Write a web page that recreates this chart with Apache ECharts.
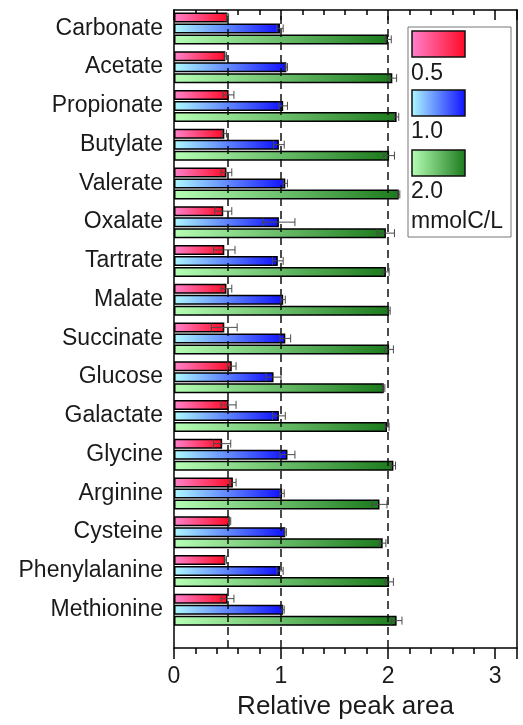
<!DOCTYPE html>
<html>
<head>
<meta charset="utf-8">
<script src="https://cdn.jsdelivr.net/npm/echarts@6/dist/echarts.min.js"></script>
<style>
  html, body { margin: 0; padding: 0; background: #fff; }
  #chart { width: 523px; height: 725px; }
</style>
</head>
<body>
<div id="chart"></div>
<script>
// categories, top to bottom
const categories = ["Carbonate", "Acetate", "Propionate", "Butylate", "Valerate", "Oxalate", "Tartrate", "Malate",
  "Succinate", "Glucose", "Galactate", "Glycine", "Arginine", "Cysteine", "Phenylalanine", "Methionine"];

// relative peak area, 0.5 / 1.0 / 2.0 mmolC/L
const conc05 = [0.50, 0.48, 0.51, 0.47, 0.49, 0.46, 0.47, 0.49, 0.47, 0.54, 0.51, 0.45, 0.55, 0.52, 0.48, 0.50];
const err05 = [0.01, 0.01, 0.05, 0.02, 0.05, 0.08, 0.10, 0.05, 0.12, 0.04, 0.07, 0.08, 0.03, 0.01, 0.01, 0.06];
const conc10 = [0.99, 1.05, 1.02, 0.98, 1.04, 0.98, 0.97, 1.02, 1.04, 0.93, 0.98, 1.06, 1.01, 1.04, 0.99, 1.02];
const err10 = [0.03, 0.01, 0.04, 0.05, 0.02, 0.15, 0.05, 0.02, 0.05, 0.07, 0.06, 0.07, 0.02, 0.01, 0.03, 0.01];
const conc20 = [2.00, 2.04, 2.08, 2.01, 2.10, 1.98, 1.98, 2.01, 2.01, 1.96, 1.99, 2.05, 1.92, 1.95, 2.01, 2.08];
const err20 = [0.03, 0.04, 0.02, 0.05, 0.01, 0.08, 0.03, 0.01, 0.04, 0.01, 0.02, 0.02, 0.07, 0.03, 0.04, 0.05];

const seriesNames = ["0.5", "1.0", "2.0"];
const refLines = [0.5, 1, 2];

const FONT = "'Liberation Sans', Arial, Helvetica, sans-serif";
const X_MAX = 3.205;
const BAR_W = 10;
const BAR_GAP = 1;

const grads = [
  ["#ff82cc", "#ff0a24"],
  ["#aefaff", "#1010ff"],
  ["#b6ffb6", "#1c7a1c"],
];
function grad(i) {
  return new echarts.graphic.LinearGradient(0, 0, 1, 0, [
    { offset: 0, color: grads[i][0] },
    { offset: 1, color: grads[i][1] },
  ]);
}

const values = [conc05, conc10, conc20];
const errors = [err05, err10, err20];

const chart = echarts.init(document.getElementById("chart"));

const barSeries = values.map((vals, i) => ({
  name: seriesNames[i],
  type: "bar",
  xAxisIndex: 0,
  yAxisIndex: 0,
  barWidth: BAR_W,
  barGap: "10%",
  data: vals,
  itemStyle: { color: grad(i), borderColor: "#000", borderWidth: 1.5 },
  silent: true,
}));

const errSeries = values.map((vals, i) => ({
  type: "custom",
  xAxisIndex: 0,
  yAxisIndex: 0,
  z: 5,
  silent: true,
  data: vals.map((v, k) => [v, k, errors[i][k]]),
  renderItem: function (params, api) {
    const v = api.value(0), c = api.value(1), e = api.value(2);
    const a = api.coord([v - e, c]);
    const b = api.coord([v + e, c]);
    const y = a[1] + (i - 1) * (BAR_W + BAR_GAP);
    const h = 4;
    const style = { stroke: "#4a4a4a", lineWidth: 1 };
    return {
      type: "group",
      children: [
        { type: "line", shape: { x1: a[0], y1: y, x2: b[0], y2: y }, style: style },
        { type: "line", shape: { x1: a[0], y1: y - h, x2: a[0], y2: y + h }, style: style },
        { type: "line", shape: { x1: b[0], y1: y - h, x2: b[0], y2: y + h }, style: style },
      ],
    };
  },
}));

// legend drawn as graphic, swatches stacked above labels
const legendItems = [
  {
    type: "rect",
    shape: { x: 408, y: 27, width: 103, height: 210 },
    style: { fill: "#fff", stroke: "#777", lineWidth: 1 },
  },
];
const swTop = [31, 90, 150];
const lblY = [73.5, 131.5, 191.5];
seriesNames.forEach((n, i) => {
  legendItems.push({
    type: "rect",
    shape: { x: 412, y: swTop[i], width: 53, height: 26 },
    style: { fill: grad(i), stroke: "#111", lineWidth: 1.5 },
  });
  legendItems.push({
    type: "text",
    x: 411,
    y: lblY[i],
    style: { text: n, font: "23px " + FONT, fill: "#1a1a1a", verticalAlign: "middle" },
  });
});
legendItems.push({
  type: "text",
  x: 411,
  y: 221.5,
  style: { text: "mmolC/L", font: "23px " + FONT, fill: "#1a1a1a", verticalAlign: "middle" },
});

const frameLine = { show: true, onZero: false, lineStyle: { color: "#000", width: 1.5 } };

chart.setOption({
  animation: false,
  backgroundColor: "#fff",
  grid: [
    { left: 174, width: 343, top: 9, height: 620 },
    { left: 174, width: 343, top: 10, height: 640 },
  ],
  xAxis: [
    { gridIndex: 0, type: "value", min: 0, max: X_MAX, show: false },
    {
      gridIndex: 1,
      type: "value",
      position: "bottom",
      min: 0,
      max: X_MAX,
      interval: 1,
      name: "Relative peak area",
      nameLocation: "middle",
      nameGap: 46,
      nameTextStyle: { fontSize: 26, color: "#1a1a1a", fontFamily: FONT },
      axisLine: frameLine,
      axisTick: { show: true, inside: false, length: 11, lineStyle: { color: "#000", width: 1.5 } },
      minorTick: { show: true, splitNumber: 5, length: 6, lineStyle: { color: "#000", width: 1.5 } },
      axisLabel: {
        fontSize: 23,
        color: "#1a1a1a",
        fontFamily: FONT,
        margin: 17,
        showMaxLabel: false,
        formatter: (v) => (Number.isInteger(v) ? String(v) : ""),
      },
      splitLine: { show: false },
    },
    {
      gridIndex: 1,
      type: "value",
      position: "top",
      min: 0,
      max: X_MAX,
      interval: 1,
      axisLine: frameLine,
      axisTick: { show: true, inside: true, length: 10, lineStyle: { color: "#000", width: 1.5 } },
      minorTick: { show: true, splitNumber: 5, length: 5, lineStyle: { color: "#000", width: 1.5 } },
      axisLabel: { show: false },
      splitLine: { show: false },
    },
  ],
  yAxis: [
    {
      gridIndex: 0,
      type: "category",
      inverse: true,
      data: categories,
      axisLine: { show: false },
      axisTick: { show: false },
      axisLabel: { fontSize: 23, color: "#1a1a1a", fontFamily: FONT, margin: 11 },
    },
    {
      gridIndex: 1,
      type: "value",
      position: "left",
      min: 0,
      max: 1,
      axisLine: frameLine,
      axisTick: { show: false },
      axisLabel: { show: false },
      splitLine: { show: false },
    },
    {
      gridIndex: 1,
      type: "value",
      position: "right",
      min: 0,
      max: 1,
      axisLine: frameLine,
      axisTick: { show: false },
      axisLabel: { show: false },
      splitLine: { show: false },
    },
  ],
  graphic: [{ type: "group", z: 100, children: legendItems }],
  series: [
    ...barSeries,
    ...errSeries,
    {
      type: "scatter",
      xAxisIndex: 1,
      yAxisIndex: 1,
      data: [[0, 0]],
      symbolSize: 0,
      silent: true,
      z: 10,
      markLine: {
        silent: true,
        symbol: "none",
        label: { show: false },
        lineStyle: { type: [8, 5], color: "#111", width: 1.5 },
        data: refLines.map((v) => ({ xAxis: v })),
      },
    },
  ],
});
</script>
</body>
</html>
